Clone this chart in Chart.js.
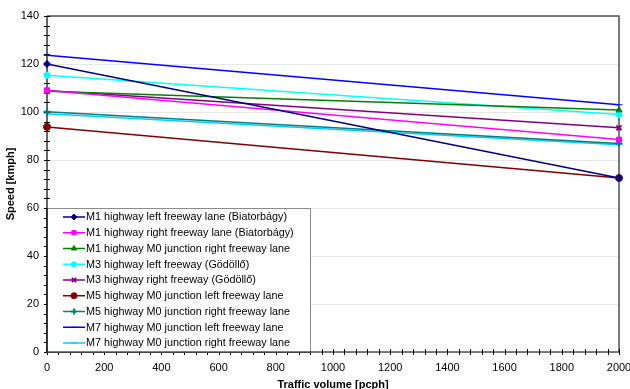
<!DOCTYPE html>
<html>
<head>
<meta charset="utf-8">
<script src="https://cdn.jsdelivr.net/npm/chart.js@4/dist/chart.umd.min.js"></script>
<style>
  html, body { margin: 0; padding: 0; background: #fff; overflow: hidden; }
  #wrap { width: 630px; height: 389px; }
</style>
</head>
<body>
<div id="wrap"><canvas id="speedChart"></canvas></div>
<script>
/* ================= DATA ================= */
const volumes = [0, 2000];
const seriesNames = [
  "M1 highway left freeway lane (Biatorbágy)",
  "M1 highway right freeway lane (Biatorbágy)",
  "M1 highway M0 junction right freeway lane",
  "M3 highway left freeway (Gödöllő)",
  "M3 highway right freeway (Gödöllő)",
  "M5 highway M0 junction left freeway lane",
  "M5 highway M0 junction right freeway lane",
  "M7 highway M0 junction left freeway lane",
  "M7 highway M0 junction right freeway lane"
];
const m1Left = [120, 72.5];
const m1Right = [109, 88.5];
const m1M0Right = [108.6, 100.8];
const m3Left = [115.3, 99];
const m3Right = [109, 93.4];
const m5Left = [93.8, 72.5];
const m5Right = [100.1, 86.9];
const m7Left = [123.6, 103];
const m7Right = [99.3, 86.4];
const xTicks = [0, 200, 400, 600, 800, 1000, 1200, 1400, 1600, 1800, 2000];
const yTicks = [0, 20, 40, 60, 80, 100, 120, 140];

/* ================= STYLES ================= */
const colors = ["#000080", "#ff00ff", "#008000", "#00ffff", "#800080", "#800000", "#008080", "#0000ff", "#00ccff"];
const markers = ["rectRot", "rect", "triangle", "star", "crossRot", "circle", "cross", "line", "line"];
const values = [m1Left, m1Right, m1M0Right, m3Left, m3Right, m5Left, m5Right, m7Left, m7Right];

const datasets = values.map((v, i) => ({
  label: seriesNames[i],
  data: v.map((s, j) => ({ x: volumes[j], y: s })),
  borderColor: colors[i],
  backgroundColor: colors[i],
  borderWidth: 1.5,
  pointStyle: markers[i],
  pointRadius: 3.5,
  pointBorderWidth: (markers[i] === "crossRot" || markers[i] === "star" || markers[i] === "cross") ? 2 : 1,
  clip: false,
  tension: 0
}));

/* ================= FRAME, TICKS, LEGEND ================= */
const framePlugin = {
  id: "frame",
  beforeDatasetsDraw(chart) {
    const ctx = chart.ctx;
    const a = chart.chartArea;
    const xs = chart.scales.x, ys = chart.scales.y;
    ctx.save();
    // top / right border
    ctx.strokeStyle = "#505050";
    ctx.lineWidth = 1.5;
    ctx.beginPath();
    ctx.moveTo(a.left, a.top);
    ctx.lineTo(a.right, a.top);
    ctx.lineTo(a.right, a.bottom);
    ctx.stroke();
    // axes
    ctx.strokeStyle = "#000";
    ctx.lineWidth = 1.2;
    ctx.beginPath();
    ctx.moveTo(a.left, a.top);
    ctx.lineTo(a.left, a.bottom);
    ctx.lineTo(a.right, a.bottom);
    ctx.stroke();
    // crossing ticks, minor every 4 kmph / 40 pcph
    ctx.lineWidth = 1;
    ctx.beginPath();
    for (let v = 0; v <= 140; v += 4) {
      const y = Math.round(ys.getPixelForValue(v)) + 0.5;
      ctx.moveTo(a.left - 3, y);
      ctx.lineTo(a.left + 3, y);
    }
    for (let v = 0; v <= 2000; v += 40) {
      const x = Math.round(xs.getPixelForValue(v)) + 0.5;
      ctx.moveTo(x, a.bottom - 3);
      ctx.lineTo(x, a.bottom + 3);
    }
    ctx.stroke();
    ctx.restore();
  },
  afterDraw(chart) {
    const ctx = chart.ctx;
    const a = chart.chartArea;
    ctx.save();
    // legend box
    const bx = a.left, by = 208, bw = 310 - a.left, bh = a.bottom - by;
    ctx.fillStyle = "#fff";
    ctx.fillRect(bx, by, bw, bh);
    ctx.strokeStyle = "#8c8c8c";
    ctx.lineWidth = 1;
    ctx.strokeRect(bx + 0.5, by + 0.5, bw, bh);
    ctx.font = "10.8px 'Liberation Sans', Arial, sans-serif";
    ctx.textBaseline = "middle";
    chart.data.datasets.forEach((ds, i) => {
      const y = 217 + i * 15.75;
      ctx.strokeStyle = ds.borderColor;
      ctx.lineWidth = 1.5;
      ctx.beginPath();
      ctx.moveTo(63, y);
      ctx.lineTo(85, y);
      ctx.stroke();
      ctx.fillStyle = ds.backgroundColor;
      ctx.lineWidth = ds.pointBorderWidth;
      Chart.helpers.drawPoint(ctx, { pointStyle: ds.pointStyle, radius: 3, borderWidth: ds.pointBorderWidth, rotation: 0 }, 74, y);
      ctx.fillStyle = "#000";
      ctx.fillText(ds.label, 86, y + 0.5);
    });
    // axes over legend edge
    ctx.strokeStyle = "#000";
    ctx.lineWidth = 1.2;
    ctx.beginPath();
    ctx.moveTo(a.left, by);
    ctx.lineTo(a.left, a.bottom);
    ctx.lineTo(bx + bw + 1, a.bottom);
    ctx.stroke();
    ctx.restore();
  }
};

/* ================= CHART ================= */
Chart.defaults.font.family = "'Liberation Sans', Arial, sans-serif";
Chart.defaults.font.size = 11;
Chart.defaults.color = "#000";

new Chart(document.getElementById("speedChart"), {
  type: "line",
  data: { datasets: datasets },
  options: {
    responsive: true,
    maintainAspectRatio: false,
    animation: false,
    layout: { padding: { top: 16, right: 11, left: 0, bottom: 0 } },
    plugins: { legend: { display: false }, tooltip: { enabled: false } },
    scales: {
      x: {
        type: "linear",
        min: 0, max: 2000,
        afterBuildTicks: s => { s.ticks = xTicks.map(v => ({ value: v })); },
        afterFit: s => { s.height = 37; s.paddingRight = 0; s.paddingLeft = 0; },
        grid: { display: false, drawTicks: false },
        border: { display: false },
        ticks: { padding: 9, maxRotation: 0, callback: v => String(v) },
        title: { display: true, text: "Traffic volume [pcph]", font: { weight: "bold", size: 11 }, padding: { top: 0, bottom: -3 } }
      },
      y: {
        min: 0, max: 140,
        afterBuildTicks: s => { s.ticks = yTicks.map(v => ({ value: v })); },
        afterFit: s => { s.width = 47; s.paddingTop = 0; s.paddingBottom = 0; },
        grid: { color: "#e8e8e8", drawTicks: false },
        border: { display: false },
        ticks: { padding: 8, callback: v => String(v) },
        title: { display: true, text: "Speed [kmph]", font: { weight: "bold", size: 11 }, padding: { top: 4, bottom: 0 } }
      }
    }
  },
  plugins: [framePlugin]
});
</script>
</body>
</html>
